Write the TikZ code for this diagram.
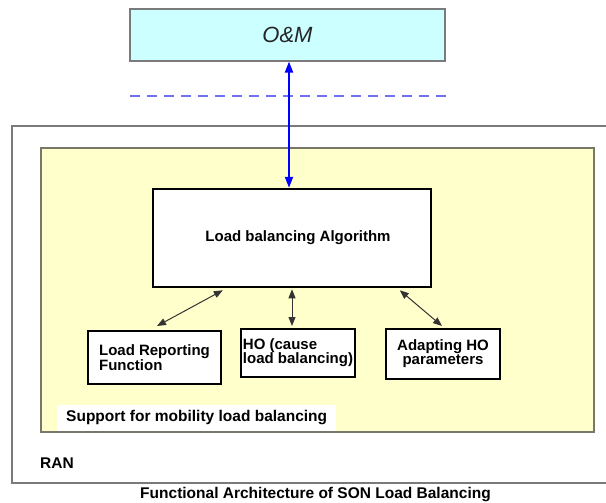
\documentclass[tikz,border=0pt]{standalone}
\usepackage{fontspec}
\setmainfont{Liberation Sans}
\usetikzlibrary{arrows.meta}
\usetikzlibrary{positioning}
\definecolor{omcyan}{HTML}{CCFFFF}
\definecolor{supyellow}{HTML}{FFFFCC}
\definecolor{framegray}{HTML}{7A7A7A}
\definecolor{supframe}{HTML}{77776A}
\definecolor{dashblue}{HTML}{7070F0}
\tikzset{
    boxom/.style = {rectangle, line width=1.2pt, draw=framegray, fill=omcyan, font=\itshape\fontsize{22}{24}\selectfont, text=black!85},
    boxran/.style = {rectangle, line width=1.5pt, draw=framegray, fill=white},
    boxsup/.style = {rectangle, line width=1.5pt, draw=supframe, fill=supyellow},
    boxalg/.style = {rectangle, line width=2.5pt, draw=black, fill=white, font=\bfseries\fontsize{15}{14}\selectfont},
    boxfn/.style = {rectangle, line width=2pt, draw=black, fill=white, inner sep=1pt, font=\bfseries\fontsize{15}{14}\selectfont},
    labtxt/.style = {font=\bfseries\fontsize{15.5}{16}\selectfont, inner sep=0pt},
    edgen/.style = {{Triangle[length=9pt,width=7pt]}-{Triangle[length=9pt,width=7pt]}, line width=1pt, black!80},
    edgeb/.style = {{Triangle[length=11pt,width=8pt]}-{Triangle[length=11pt,width=8pt]}, line width=2pt, blue},
    edgebd/.style = {-, line width=1.2pt, dashblue, dash pattern=on 10pt off 7pt} % separator
}

\begin{document}
\begin{tikzpicture}[x=1pt, y=-1pt]
  \useasboundingbox[fill=white] (0,0) rectangle (606,503);
  \node[boxom, minimum width=315pt, minimum height=52pt] (om) at (287.5,35) {O\&M};
  \coordinate (dl) at (130,96);
  \coordinate (dr) at (448,96);
  \draw[edgebd] (dl) -- (dr);
  \node[boxran, minimum width=600pt, minimum height=357pt] (ran) at (312,304.5) {};
  \node[boxsup, minimum width=553pt, minimum height=284pt] (sup) at (317.5,290) {};
  \node[boxalg, minimum width=278pt, minimum height=98pt] (alg) at (292,238) {\hspace*{12pt}Load balancing Algorithm};
  \node[boxfn, align=left, minimum width=133pt, minimum height=53pt] (lrf) at (154.5,357.5) {Load Reporting\\Function};
  \node[boxfn, align=left, minimum width=114pt, minimum height=48pt] (hob) at (298,353) {HO (cause\\load balancing)};
  \node[boxfn, align=center, minimum width=114pt, minimum height=50pt] (ahp) at (443,354) {Adapting HO\\parameters};
  \node[labtxt, fill=white, inner xsep=9pt, minimum height=26pt, anchor=south west] (suplab) at (57,431) {Support for mobility load balancing};
  \node[labtxt, anchor=west] (ranlab) at (40,463) {RAN};
  \node[labtxt] (caption) at (315.5,495) {Functional Architecture of SON Load Balancing};
  % connectors
  \draw[edgeb] ([xshift=1.5pt]om.south) -- ([xshift=1.5pt]om.south |- alg.north);
  \draw[edgen] ([xshift=2.5pt,yshift=4pt]lrf.north) -- ([yshift=-2pt]alg.216);
  \draw[edgen] ([yshift=-1pt]alg.south) -- ([yshift=2pt]alg.south |- hob.north);
  \draw[edgen] ([yshift=-2pt]alg.-25) -- ([xshift=-1pt,yshift=2pt]ahp.north);
\end{tikzpicture}
\end{document}
